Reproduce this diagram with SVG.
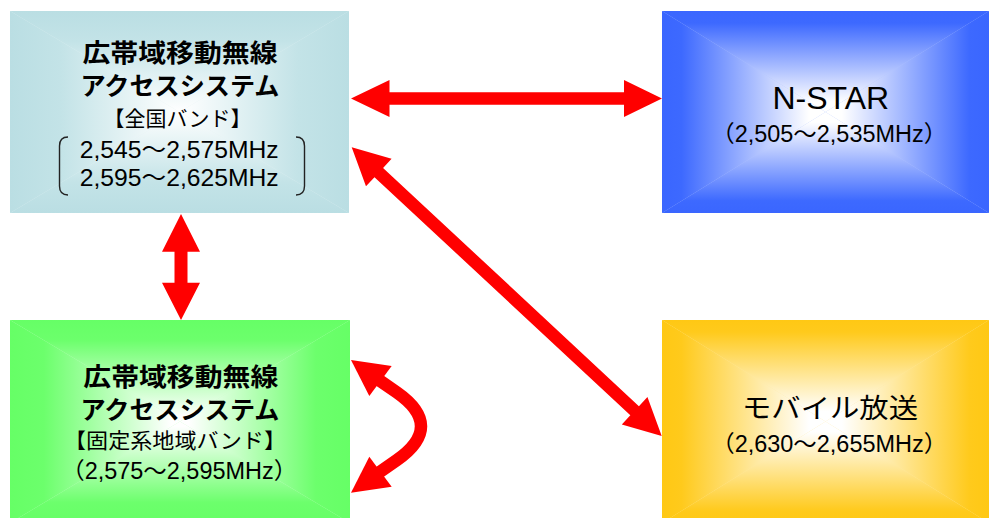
<svg xmlns="http://www.w3.org/2000/svg" xmlns:xlink="http://www.w3.org/1999/xlink" width="989" height="518" viewBox="0 0 989 518">
<style>
  .t { font-family: "Liberation Sans", "Noto Sans CJK JP", sans-serif; fill: #000; text-anchor: middle; }
  .b { font-weight: bold; }
  .arrow { fill: #FF0000; stroke: none; }
  .curve { fill: none; stroke: #FF0000; stroke-width: 12.5; }
  .brk { fill: none; stroke: #222; stroke-width: 1.4; }
</style>
<defs>
  <!-- light blue -->
  <linearGradient id="lbT" x1="0" y1="0" x2="0" y2="1"><stop offset="0" stop-color="#BADEE3"/><stop offset="0.3" stop-color="#C3E3E7"/><stop offset="1" stop-color="#FFFFFF"/></linearGradient>
  <linearGradient id="lbB" href="#lbT" xlink:href="#lbT" x1="0" y1="1" x2="0" y2="0"/>
  <linearGradient id="lbL" href="#lbT" xlink:href="#lbT" x1="0" y1="0" x2="1" y2="0"/>
  <linearGradient id="lbR" href="#lbT" xlink:href="#lbT" x1="1" y1="0" x2="0" y2="0"/>
  <!-- green -->
  <linearGradient id="gT" x1="0" y1="0" x2="0" y2="1"><stop offset="0" stop-color="#66FF66"/><stop offset="0.2" stop-color="#6CFF6C"/><stop offset="0.95" stop-color="#FFFFFF"/><stop offset="1" stop-color="#FFFFFF"/></linearGradient>
  <linearGradient id="gB" href="#gT" xlink:href="#gT" x1="0" y1="1" x2="0" y2="0"/>
  <linearGradient id="gL" href="#gT" xlink:href="#gT" x1="0" y1="0" x2="1" y2="0"/>
  <linearGradient id="gR" href="#gT" xlink:href="#gT" x1="1" y1="0" x2="0" y2="0"/>
  <!-- blue -->
  <linearGradient id="bT" x1="0" y1="0" x2="0" y2="1"><stop offset="0" stop-color="#3A66FF"/><stop offset="0.12" stop-color="#3D69FF"/><stop offset="0.9" stop-color="#FFFFFF"/><stop offset="1" stop-color="#FFFFFF"/></linearGradient>
  <linearGradient id="bB" href="#bT" xlink:href="#bT" x1="0" y1="1" x2="0" y2="0"/>
  <linearGradient id="bL" href="#bT" xlink:href="#bT" x1="0" y1="0" x2="1" y2="0"/>
  <linearGradient id="bR" href="#bT" xlink:href="#bT" x1="1" y1="0" x2="0" y2="0"/>
  <!-- yellow -->
  <linearGradient id="yT" x1="0" y1="0" x2="0" y2="1"><stop offset="0" stop-color="#FFC814"/><stop offset="0.12" stop-color="#FFCA1C"/><stop offset="0.9" stop-color="#FFFFFF"/><stop offset="1" stop-color="#FFFFFF"/></linearGradient>
  <linearGradient id="yB" href="#yT" xlink:href="#yT" x1="0" y1="1" x2="0" y2="0"/>
  <linearGradient id="yL" href="#yT" xlink:href="#yT" x1="0" y1="0" x2="1" y2="0"/>
  <linearGradient id="yR" href="#yT" xlink:href="#yT" x1="1" y1="0" x2="0" y2="0"/>
</defs>
<rect width="989" height="518" fill="#FFFFFF"/>

<g id="node-wideband-national">
  <rect x="10" y="11" width="339" height="202" fill="#E2F1F3"/>
  <polygon points="10,11 349,11 179.5,112" fill="url(#lbT)"/>
  <polygon points="10,213 349,213 179.5,112" fill="url(#lbB)"/>
  <polygon points="10,11 10,213 179.5,112" fill="url(#lbL)"/>
  <polygon points="349,11 349,213 179.5,112" fill="url(#lbR)"/>
  <text class="t b" x="180" y="62" font-size="25" textLength="195" lengthAdjust="spacingAndGlyphs">広帯域移動無線</text>
  <text class="t b" x="180" y="95" font-size="25" textLength="199" lengthAdjust="spacingAndGlyphs">アクセスシステム</text>
  <text class="t" x="177.5" y="126" font-size="21">【全国バンド】</text>
  <text class="t" x="179.2" y="158" font-size="24" textLength="199" lengthAdjust="spacingAndGlyphs">2,545～2,575MHz</text>
  <text class="t" x="179.2" y="186" font-size="24" textLength="199" lengthAdjust="spacingAndGlyphs">2,595～2,625MHz</text>
  <path class="brk" d="M68,137 Q59.5,137 59.5,146 L59.5,186 Q59.5,195 68,195"/>
  <path class="brk" d="M296,137 Q304.5,137 304.5,146 L304.5,186 Q304.5,195 296,195"/>
</g>

<g id="node-wideband-fixed">
  <rect x="10" y="320" width="340" height="203" fill="#C8FFC8"/>
  <polygon points="10,320 350,320 180,421.5" fill="url(#gT)"/>
  <polygon points="10,523 350,523 180,421.5" fill="url(#gB)"/>
  <polygon points="10,320 10,523 180,421.5" fill="url(#gL)"/>
  <polygon points="350,320 350,523 180,421.5" fill="url(#gR)"/>
  <text class="t b" x="180.8" y="386" font-size="25" textLength="195" lengthAdjust="spacingAndGlyphs">広帯域移動無線</text>
  <text class="t b" x="180" y="418.5" font-size="25" textLength="199" lengthAdjust="spacingAndGlyphs">アクセスシステム</text>
  <text class="t" x="175" y="448" font-size="21" textLength="222" lengthAdjust="spacingAndGlyphs">【固定系地域バンド】</text>
  <text class="t" x="179.2" y="479" font-size="23" textLength="236" lengthAdjust="spacingAndGlyphs">（2,575～2,595MHz）</text>
</g>

<g id="node-nstar">
  <rect x="662" y="11" width="327" height="202" fill="#AFC3FF"/>
  <polygon points="662,11 989,11 825.5,112" fill="url(#bT)"/>
  <polygon points="662,213 989,213 825.5,112" fill="url(#bB)"/>
  <polygon points="662,11 662,213 825.5,112" fill="url(#bL)"/>
  <polygon points="989,11 989,213 825.5,112" fill="url(#bR)"/>
  <text class="t" x="830.8" y="109.3" font-size="32">N-STAR</text>
  <text class="t" x="829.2" y="141.5" font-size="23" textLength="236" lengthAdjust="spacingAndGlyphs">（2,505～2,535MHz）</text>
</g>

<g id="node-mobile">
  <rect x="662" y="320" width="327" height="203" fill="#FFE9A0"/>
  <polygon points="662,320 989,320 825.5,421.5" fill="url(#yT)"/>
  <polygon points="662,523 989,523 825.5,421.5" fill="url(#yB)"/>
  <polygon points="662,320 662,523 825.5,421.5" fill="url(#yL)"/>
  <polygon points="989,320 989,523 825.5,421.5" fill="url(#yR)"/>
  <text class="t" x="830" y="418" font-size="27" textLength="176" lengthAdjust="spacingAndGlyphs">モバイル放送</text>
  <text class="t" x="829.2" y="451.5" font-size="23" textLength="236" lengthAdjust="spacingAndGlyphs">（2,630～2,655MHz）</text>
</g>

<g id="connectors">
  <polygon class="arrow" points="351,98.5 389.5,80 389.5,92.2 624,92.2 624,80 662,98.5 624,117 624,104.8 389.5,104.8 389.5,117"/>
  <polygon class="arrow" points="181,214 200,251.7 187.5,251.7 187.5,282.7 200,282.7 181,320 162,282.7 174.5,282.7 174.5,251.7 162,251.7"/>
  <polygon class="arrow" transform="translate(351.7,147.3) rotate(42.96)" points="0,0 37,-18.8 37,-6.3 386.6,-6.3 386.6,-18.8 423.6,0 386.6,18.8 386.6,6.3 37,6.3 37,18.8"/>
  <path class="curve" d="M376,378 L396.8,392.4 Q445.2,426.3 396.8,460.2 L376,474.6"/>
  <polygon class="arrow" points="351,360 391.7,366 369.3,396"/>
  <polygon class="arrow" points="351,492.7 391.7,486.7 369.3,456.7"/>
</g>
</svg>
